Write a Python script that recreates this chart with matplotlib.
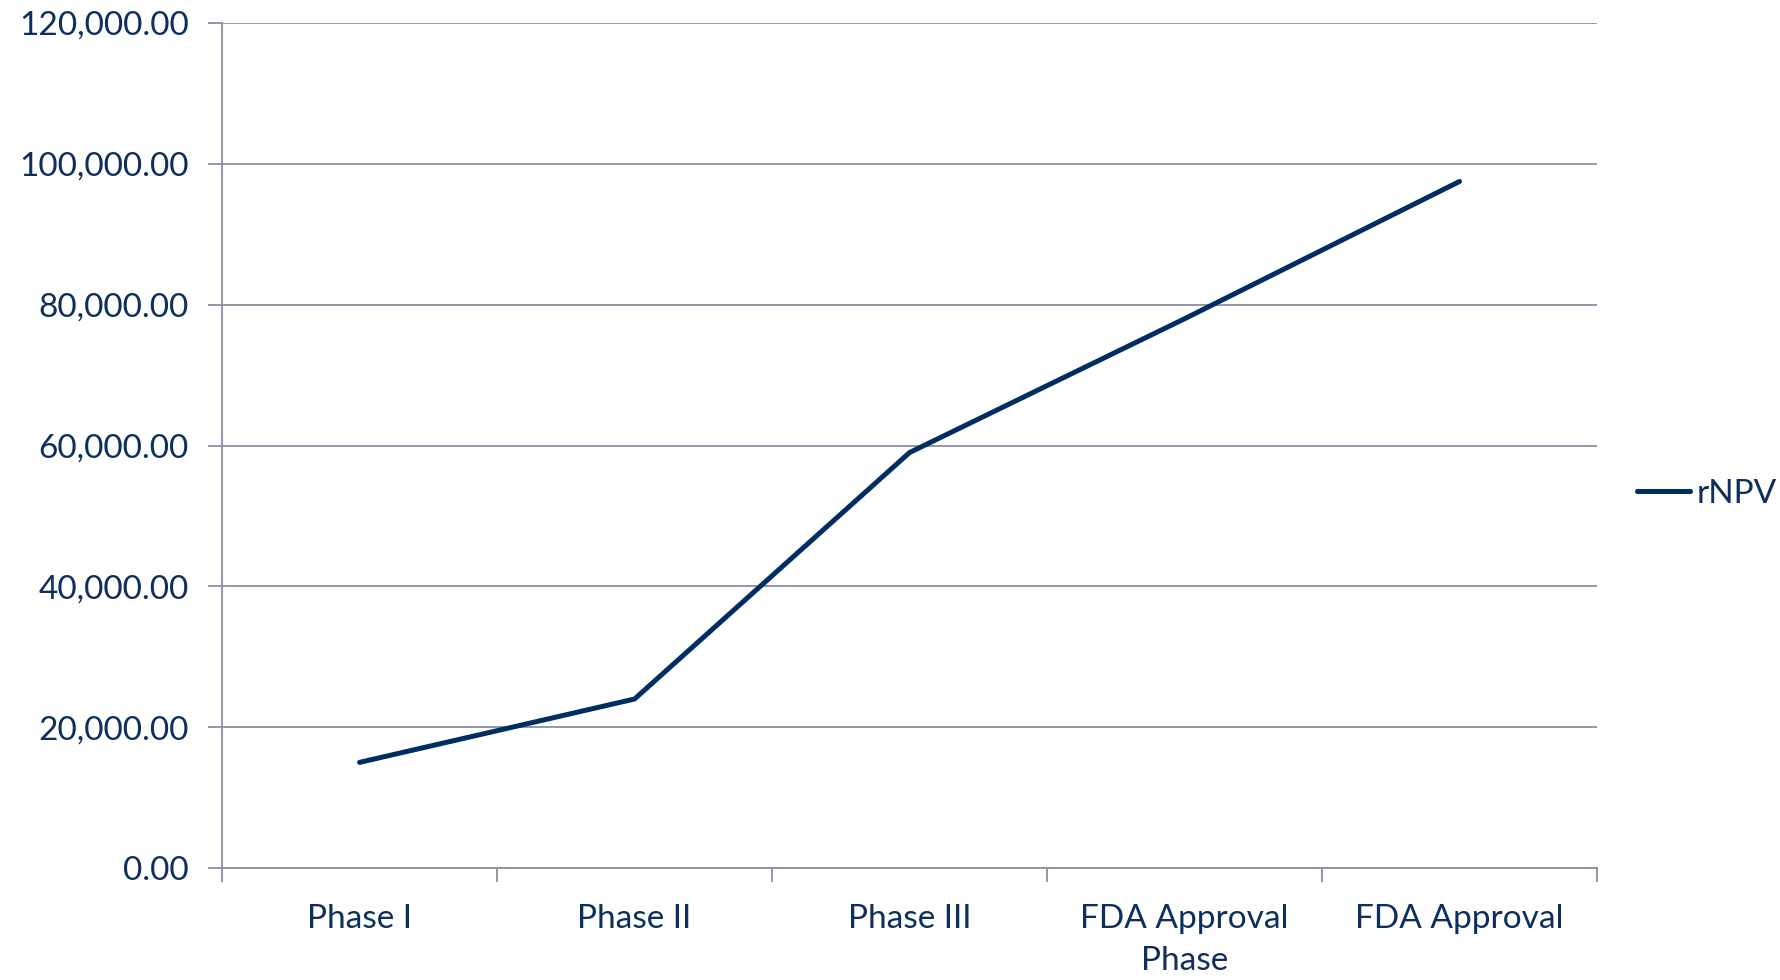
import matplotlib
matplotlib.use("Agg")
import matplotlib.pyplot as plt
from matplotlib.ticker import FuncFormatter, FixedLocator

phases = ["Phase I", "Phase II", "Phase III", "FDA Approval\nPhase", "FDA Approval"]
rnpv = [15000, 24000, 59000, 78000, 97500]
y_ticks = [0, 20000, 40000, 60000, 80000, 100000, 120000]

navy = "#002D62"
text_color = "#0D2F5E"
grid_color = "#8C8FA1"

plt.rcParams["font.family"] = ["Lato", "DejaVu Sans"]

fig = plt.figure(figsize=(17.81, 9.8), dpi=100)
ax = fig.add_axes([0.1247, 0.1143, 0.7720, 0.8622])

x = list(range(len(phases)))
ax.plot(x, rnpv, color=navy, linewidth=3.6, solid_capstyle="round",
        solid_joinstyle="miter", label="rNPV", zorder=3)

ax.set_xlim(-0.5, len(phases) - 0.5)
ax.set_ylim(0, 120000)

ax.yaxis.set_major_locator(FixedLocator(y_ticks))
ax.yaxis.set_major_formatter(FuncFormatter(lambda v, p: f"{v:,.2f}"))
ax.grid(axis="y", color=grid_color, linewidth=1.3, zorder=1)

# category boundaries carry the tick marks; labels sit at the centres
ax.xaxis.set_major_locator(FixedLocator([i - 0.5 for i in range(len(phases) + 1)]))
ax.xaxis.set_major_formatter(FuncFormatter(lambda v, p: ""))
ax.xaxis.set_minor_locator(FixedLocator(x))
ax.set_xticklabels(phases, minor=True)
ax.tick_params(axis="x", which="minor", length=0, pad=26,
               labelsize=24, labelcolor=text_color)
ax.tick_params(axis="x", which="major", length=10, width=1.3, color=grid_color)
ax.tick_params(axis="y", which="major", length=10, width=1.3, color=grid_color,
               labelsize=24, labelcolor=text_color, pad=14)
for lbl in ax.get_xticklabels(minor=True):
    lbl.set_linespacing(1.5)

for side in ("top", "right"):
    ax.spines[side].set_visible(False)
for side in ("left", "bottom"):
    ax.spines[side].set_color(grid_color)
    ax.spines[side].set_linewidth(1.3)

leg = fig.legend(handles=ax.get_lines(), loc="center left",
                 bbox_to_anchor=(1637 / 1781, 1 - 494 / 980), frameon=False,
                 fontsize=24, handlelength=1.6, handletextpad=0.2,
                 borderaxespad=0, borderpad=0)
for t in leg.get_texts():
    t.set_color(text_color)

fig.savefig("out.png", dpi=100, facecolor="white")
